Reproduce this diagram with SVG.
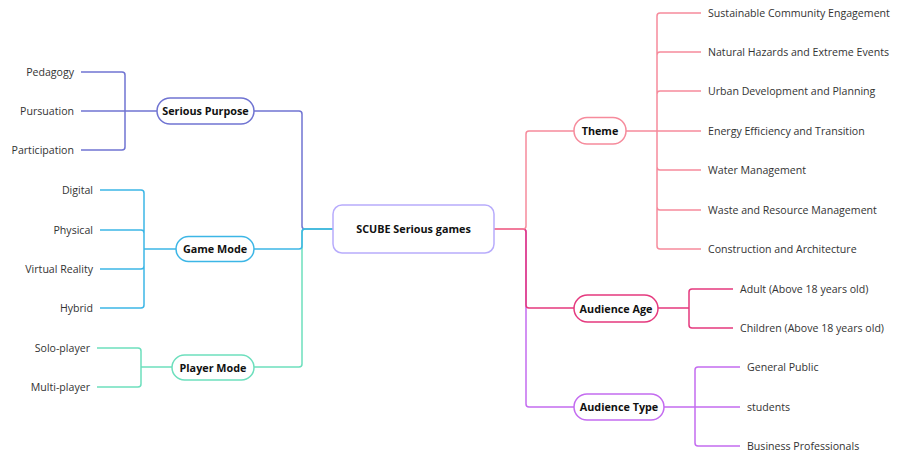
<svg xmlns="http://www.w3.org/2000/svg" width="903" height="455" viewBox="0 0 903 455">
<style>
.leaf{font-family:"Open Sans","Noto Sans","Liberation Sans",sans-serif;font-size:10.6px;fill:#333}
.lbl{font-family:"Open Sans","Noto Sans","Liberation Sans",sans-serif;font-size:10.8px;font-weight:bold;fill:#111;text-anchor:middle}
.end{text-anchor:end}
.ln{fill:none;stroke-width:1.5;stroke-linejoin:round}
.node{fill:#fff;stroke-width:1.5}
.c-sp{stroke:#7074d2}.c-gm{stroke:#3cb6e6}.c-pm{stroke:#6ddfbd}
.c-th{stroke:#f68b9c}.c-aa{stroke:#e5397e}.c-at{stroke:#c46cf0}
</style>
<rect width="903" height="455" fill="#fff"/>
<g id="connectors">
<path class="ln c-sp" d="M333,229 H305 Q302,229 302,226 V114 Q302,111 299,111 H254"/>
<path class="ln c-pm" d="M333,229 H305 Q302,229 302,232 V364 Q302,367 299,367 H254"/>
<path class="ln c-gm" d="M333,229 H305 Q302,229 302,232 V246 Q302,249 299,249 H254"/>
<path class="ln c-sp" d="M157,111 H125 M125,111 V75 Q125,72 122,72 H81 M125,111 H81 M125,111 V147 Q125,150 122,150 H81"/>
<path class="ln c-gm" d="M176,249 H144 M144,249 V193 Q144,190 141,190 H100 M144,249 V233 Q144,230 141,230 H100 M144,249 V266 Q144,269 141,269 H100 M144,249 V305 Q144,308 141,308 H100"/>
<path class="ln c-pm" d="M172,367 H141 M141,367 V351 Q141,348 138,348 H97 M141,367 V384 Q141,387 138,387 H97"/>
<path class="ln c-at" d="M494,229 H523 Q526,229 526,232 V404 Q526,407 529,407 H574"/>
<path class="ln c-aa" d="M494,229 H523 Q526,229 526,232 V305 Q526,308 529,308 H574"/>
<path class="ln c-th" d="M494,229 H523 Q526,229 526,226 V134 Q526,131 529,131 H574"/>
<path class="ln c-th" d="M626,131 H657 M657,131 V16 Q657,13 660,13 H701 M657,131 V55 Q657,52 660,52 H701 M657,131 V94 Q657,91 660,91 H701 M657,131 H701 M657,131 V167 Q657,170 660,170 H701 M657,131 V207 Q657,210 660,210 H701 M657,131 V246 Q657,249 660,249 H701"/>
<path class="ln c-aa" d="M658,308 H689 M689,308 V292 Q689,289 692,289 H733 M689,308 V325 Q689,328 692,328 H733"/>
<path class="ln c-at" d="M664,407 H695 M695,407 V370 Q695,367 698,367 H740 M695,407 H740 M695,407 V443 Q695,446 698,446 H740"/>
</g>
<g id="center">
<rect class="node" x="333" y="205" width="161" height="48" rx="9" stroke="#b8acfc"/>
<text class="lbl" x="413.5" y="233">SCUBE Serious games</text>
</g>
<g id="serious-purpose">
<rect class="node c-sp" x="157" y="98" width="97" height="26" rx="13"/>
<text class="lbl" x="205.5" y="115">Serious Purpose</text>
</g>
<g id="game-mode">
<rect class="node c-gm" x="176" y="236.5" width="78" height="25" rx="12.5"/>
<text class="lbl" x="215" y="253">Game Mode</text>
</g>
<g id="player-mode">
<rect class="node c-pm" x="172" y="355" width="82" height="25" rx="12.5"/>
<text class="lbl" x="213" y="371.5">Player Mode</text>
</g>
<g id="theme">
<rect class="node c-th" x="574" y="117.5" width="52" height="26.5" rx="13"/>
<text class="lbl" x="600" y="135">Theme</text>
</g>
<g id="audience-age">
<rect class="node c-aa" x="574" y="295" width="84" height="27" rx="13.5"/>
<text class="lbl" x="616" y="312.5">Audience Age</text>
</g>
<g id="audience-type">
<rect class="node c-at" x="574" y="394" width="90" height="26" rx="13"/>
<text class="lbl" x="619" y="411">Audience Type</text>
</g>
<g id="leaves-sp">
<text class="leaf end" x="74" y="76">Pedagogy</text>
<text class="leaf end" x="74" y="115">Pursuation</text>
<text class="leaf end" x="74" y="154">Participation</text>
</g>
<g id="leaves-gm">
<text class="leaf end" x="93" y="194">Digital</text>
<text class="leaf end" x="93" y="234">Physical</text>
<text class="leaf end" x="93" y="273">Virtual Reality</text>
<text class="leaf end" x="93" y="312">Hybrid</text>
</g>
<g id="leaves-pm">
<text class="leaf end" x="90" y="352">Solo-player</text>
<text class="leaf end" x="90" y="391">Multi-player</text>
</g>
<g id="leaves-th">
<text class="leaf" x="708" y="17">Sustainable Community Engagement</text>
<text class="leaf" x="708" y="56">Natural Hazards and Extreme Events</text>
<text class="leaf" x="708" y="95">Urban Development and Planning</text>
<text class="leaf" x="708" y="135">Energy Efficiency and Transition</text>
<text class="leaf" x="708" y="174">Water Management</text>
<text class="leaf" x="708" y="214">Waste and Resource Management</text>
<text class="leaf" x="708" y="253">Construction and Architecture</text>
</g>
<g id="leaves-aa">
<text class="leaf" x="740" y="293">Adult (Above 18 years old)</text>
<text class="leaf" x="740" y="332">Children (Above 18 years old)</text>
</g>
<g id="leaves-at">
<text class="leaf" x="747" y="371">General Public</text>
<text class="leaf" x="747" y="411">students</text>
<text class="leaf" x="747" y="450">Business Professionals</text>
</g>
</svg>
